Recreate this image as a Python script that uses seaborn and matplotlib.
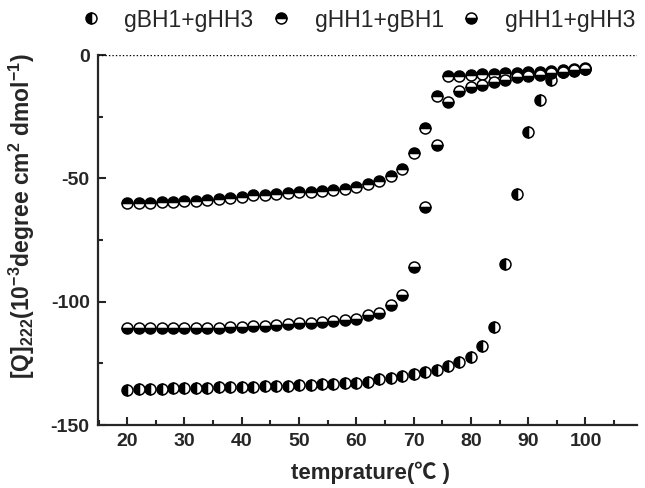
import matplotlib
matplotlib.use("Agg")
import matplotlib.pyplot as plt
from matplotlib.ticker import MultipleLocator
import seaborn as sns
import pandas as pd

temps = [20, 22, 24, 26, 28, 30, 32, 34, 36, 38, 40, 42, 44, 46, 48, 50, 52, 54, 56, 58,
         60, 62, 64, 66, 68, 70, 72, 74, 76, 78, 80, 82, 84, 86, 88, 90, 92, 94, 96, 98, 100]

gBH1_gHH3 = [-135.8, -135.5, -135.4, -135.3, -135.1, -135.1, -135.0, -134.8, -134.7, -134.7,
             -134.6, -134.4, -134.3, -134.2, -134.0, -133.9, -133.8, -133.5, -133.4, -133.1,
             -132.8, -132.5, -131.4, -130.8, -130.0, -129.2, -128.5, -127.7, -126.1, -124.3,
             -122.3, -117.8, -110.1, -84.9, -56.3, -31.1, -18.2, -10.1, -7.0, -6.3, -5.8]

gHH1_gBH1 = [-60.1, -60.1, -59.9, -59.6, -59.5, -59.3, -59.3, -58.9, -58.5, -58.1,
             -57.4, -56.7, -56.6, -56.3, -56.1, -55.7, -55.4, -55.1, -54.7, -54.3,
             -53.6, -52.4, -51.1, -49.0, -46.3, -39.9, -29.7, -16.5, -8.5, -8.5,
             -8.1, -7.8, -7.8, -7.4, -7.2, -7.0, -6.8, -6.5, -6.1, -5.6, -5.4]

gHH1_gHH3 = [-110.8, -110.8, -110.8, -110.8, -110.8, -110.7, -110.7, -110.7, -110.5, -110.4,
             -110.1, -110.0, -109.7, -109.4, -109.0, -108.8, -108.5, -108.2, -107.8, -107.4,
             -107.0, -105.4, -104.4, -101.3, -97.3, -86.1, -61.6, -36.5, -19.1, -14.5,
             -12.8, -12.2, -10.8, -10.1, -9.1, -8.6, -8.0, -7.4, -6.8, -6.2, -5.8]

series_names = ["gBH1+gHH3", "gHH1+gBH1", "gHH1+gHH3"]
series_values = [gBH1_gHH3, gHH1_gBH1, gHH1_gHH3]
fillstyles = ["left", "top", "bottom"]

sns.set_style("ticks")
plt.rcParams["font.family"] = ["Liberation Sans", "Noto Sans CJK SC", "DejaVu Sans"]
plt.rcParams["axes.unicode_minus"] = False
plt.rcParams["mathtext.fontset"] = "custom"
plt.rcParams["mathtext.rm"] = "Liberation Sans:bold"
plt.rcParams["mathtext.it"] = "Liberation Sans:bold"
plt.rcParams["mathtext.bf"] = "Liberation Sans:bold"
plt.rcParams["mathtext.default"] = "rm"

fig = plt.figure(figsize=(6.45, 4.88), dpi=100)
ax = fig.add_axes([98 / 645, 1 - 425 / 488, (637 - 98) / 645, (425 - 55) / 488])

ax.axhline(0, color="black", lw=1.0, ls=(0, (1, 1.5)), zorder=1)

handles = []
for name, vals, fs in zip(series_names, series_values, fillstyles):
    df = pd.DataFrame({"T": temps, "v": vals})
    sns.lineplot(data=df, x="T", y="v", ax=ax, marker="o", linestyle="",
                 markersize=7.9, fillstyle=fs, markerfacecolor="black",
                 markerfacecoloralt="white", markeredgecolor="black",
                 markeredgewidth=1.1, color="black", legend=False, zorder=3)
    handles.append(ax.lines[-1])

ax.set_xlim(14.9, 109)
ax.set_ylim(-150, 0)
ax.set_xticks([20, 30, 40, 50, 60, 70, 80, 90, 100])
ax.xaxis.set_minor_locator(MultipleLocator(5))
ax.yaxis.set_major_locator(MultipleLocator(50))
ax.yaxis.set_minor_locator(MultipleLocator(25))
ax.tick_params(which="major", direction="in", length=6, width=1.5, labelsize=14, pad=6)
ax.tick_params(which="minor", direction="in", length=3.5, width=1.5)
for lab in ax.get_xticklabels() + ax.get_yticklabels():
    lab.set_fontweight("bold")

for side in ["top", "right"]:
    ax.spines[side].set_visible(False)
for side in ["left", "bottom"]:
    ax.spines[side].set_linewidth(1.6)

ax.set_xlabel("temprature(℃ )", fontsize=16, fontweight="bold")
ax.set_ylabel(r"[Q]$_{222}$(10$^{-3}$degree cm$^{2}$ dmol$^{-1}$)", fontsize=16.5,
              fontweight="bold")
ax.xaxis.set_label_coords(0.506, -0.1)
ax.yaxis.set_label_coords(-0.113, 0.5635)

fig.legend(handles, series_names, loc="center", bbox_to_anchor=(357 / 645, 1 - 20 / 488),
           ncol=3, frameon=False, fontsize=16.5, handlelength=1.0, handletextpad=0.98,
           columnspacing=0.68, borderaxespad=0, borderpad=0, markerscale=1.0)

fig.savefig("out.png", dpi=100)
